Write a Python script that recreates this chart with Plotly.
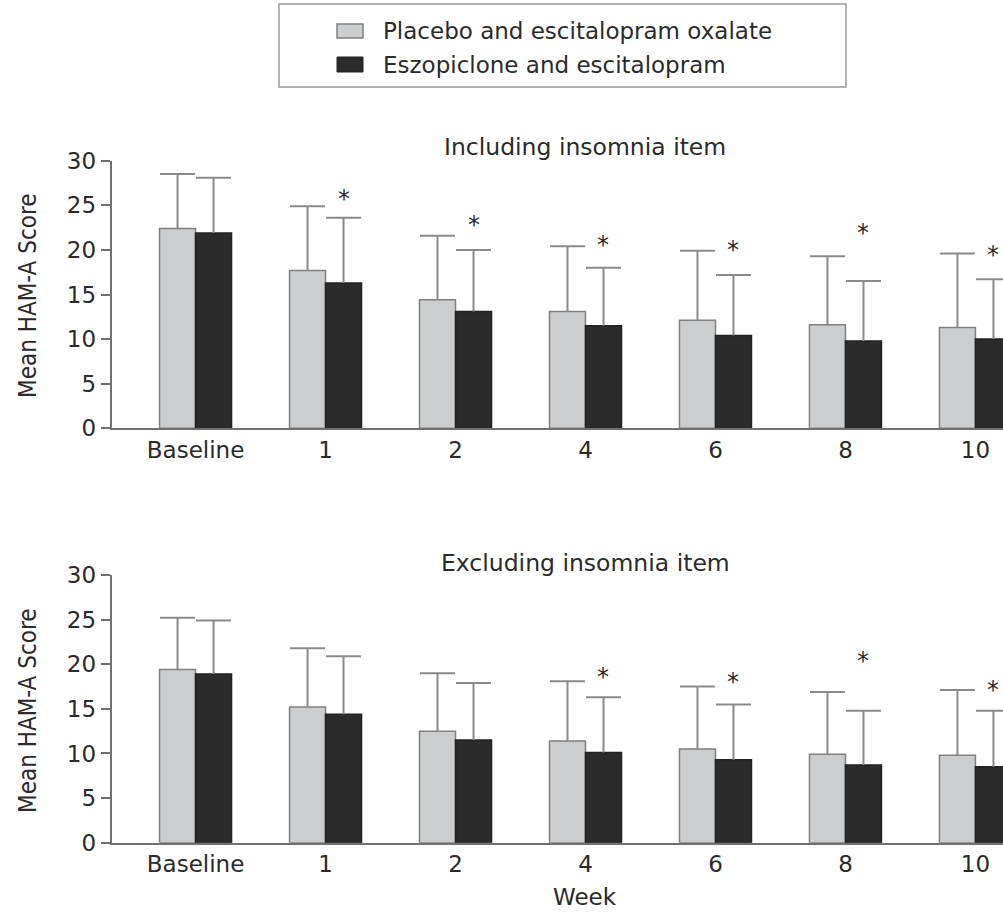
import plotly.graph_objects as go

# ---------------- data ----------------
weeks = ["Baseline", "1", "2", "4", "6", "8", "10"]

inc_placebo = [22.4, 17.7, 14.4, 13.1, 12.1, 11.6, 11.3]
inc_placebo_sd = [6.1, 7.2, 7.2, 7.3, 7.8, 7.7, 8.3]
inc_eszo = [21.9, 16.3, 13.1, 11.5, 10.4, 9.8, 10.0]
inc_eszo_sd = [6.2, 7.3, 6.9, 6.5, 6.8, 6.7, 6.7]
inc_star = [None, 26.3, 23.4, 21.1, 20.6, 22.5, 20.0]

exc_placebo = [19.4, 15.2, 12.5, 11.4, 10.5, 9.9, 9.8]
exc_placebo_sd = [5.8, 6.6, 6.5, 6.7, 7.0, 7.0, 7.3]
exc_eszo = [18.9, 14.4, 11.5, 10.1, 9.3, 8.7, 8.5]
exc_eszo_sd = [6.0, 6.5, 6.4, 6.2, 6.2, 6.1, 6.3]
exc_star = [None, None, None, 19.1, 18.6, 20.9, 17.7]

series_names = ["Placebo and escitalopram oxalate", "Eszopiclone and escitalopram"]
panel_titles = ["Including insomnia item", "Excluding insomnia item"]
y_title = "Mean HAM-A Score"
x_title = "Week"
y_ticks = [0, 5, 10, 15, 20, 25, 30]

# ---------------- style ----------------
W, H = 1003, 913
FONT = "DejaVu Sans"
TXT = "#2a2a2a"
LIGHT = "#cbcdcf"
LIGHT_EDGE = "#808080"
DARK = "#2b2b2b"
ERR = "#8a8a8a"
AX = "#707070"
BW = 0.277  # bar width in category units


def px(p):
    return p / W


def py(p):
    return 1 - p / H


idx = list(range(len(weeks)))

fig = go.Figure()

panels = [
    (inc_placebo, inc_placebo_sd, inc_eszo, inc_eszo_sd, inc_star, "x", "y"),
    (exc_placebo, exc_placebo_sd, exc_eszo, exc_eszo_sd, exc_star, "x2", "y2"),
]

annotations = []
for k, (pv, ps, ev, es, st, xr, yr) in enumerate(panels):
    for vals, sds, off, col, edge, name in [
        (pv, ps, -BW, LIGHT, LIGHT_EDGE, series_names[0]),
        (ev, es, 0.0, DARK, "#222222", series_names[1]),
    ]:
        fig.add_trace(go.Bar(
            x=idx, y=vals, width=BW, offset=off, name=name,
            marker=dict(color=col, line=dict(color=edge, width=1.5)),
            error_y=dict(type="data", array=sds, arrayminus=[0] * len(sds),
                         symmetric=False, width=0, thickness=2, color=ERR),
            xaxis=xr, yaxis=yr, showlegend=False,
        ))
        # error bar caps
        fig.add_trace(go.Scatter(
            x=[i + off + BW / 2 for i in idx],
            y=[v + s for v, s in zip(vals, sds)],
            mode="markers",
            marker=dict(symbol="line-ew", size=25,
                        line=dict(color=ERR, width=2), color=ERR),
            xaxis=xr, yaxis=yr, showlegend=False, hoverinfo="skip",
        ))
    # asterisks
    for i, s in zip(idx, st):
        if s is not None:
            annotations.append(dict(
                x=i + BW / 2, y=s, xref=xr, yref=yr, text="*",
                showarrow=False, yanchor="middle", xanchor="center",
                yshift=-5, font=dict(family=FONT, size=24, color=TXT)))

x_dom = [111.7 / W, 1.0]
x_rng = [-0.645, 6.212]
y_doms = [[py(428.3), py(160.7)], [py(842.7), py(575.0)]]

axis_common_x = dict(
    domain=x_dom, range=x_rng, tickmode="array", tickvals=idx, ticktext=weeks,
    showline=True, linecolor=AX, linewidth=2, ticks="", showgrid=False,
    zeroline=False, tickfont=dict(family=FONT, size=23, color=TXT),
    fixedrange=True, automargin=False,
)
axis_common_y = dict(
    range=[0, 30], tickmode="array", tickvals=y_ticks,
    showline=True, linecolor=AX, linewidth=2, ticks="outside", ticklen=9,
    tickwidth=2, tickcolor=AX, showgrid=False, zeroline=False,
    tickfont=dict(family=FONT, size=23, color=TXT), fixedrange=True,
    automargin=False,
)

fig.update_layout(
    template="none",
    xaxis=dict(axis_common_x, anchor="y"),
    yaxis=dict(axis_common_y, domain=y_doms[0], anchor="x"),
    xaxis2=dict(axis_common_x, anchor="y2"),
    yaxis2=dict(axis_common_y, domain=y_doms[1], anchor="x2"),
)

# panel titles
for t, yp, xr in [(panel_titles[0], 147, "x"), (panel_titles[1], 563, "x2")]:
    annotations.append(dict(x=3, xref=xr, y=py(yp), yref="paper", text=t,
                            showarrow=False, xanchor="center", yanchor="middle",
                            font=dict(family=FONT, size=23.5, color=TXT)))
# y titles
for yp in [296, 711]:
    annotations.append(dict(x=px(28), y=py(yp), xref="paper", yref="paper",
                            text=y_title, textangle=-90, showarrow=False,
                            xanchor="center", yanchor="middle",
                            font=dict(family="DejaVu Sans Condensed, DejaVu Sans",
                                      size=24, color=TXT)))
# x title
annotations.append(dict(x=3, xref="x2", y=py(912), yref="paper", text=x_title,
                        showarrow=False, xanchor="center", yanchor="bottom",
                        font=dict(family=FONT, size=23, color=TXT)))

# legend (drawn)
shapes = [
    dict(type="rect", xref="paper", yref="paper", x0=px(279), x1=px(846),
         y0=py(87), y1=py(4), line=dict(color="#9a9a9a", width=1.5),
         fillcolor="rgba(0,0,0,0)"),
    dict(type="rect", xref="paper", yref="paper", x0=px(337), x1=px(363),
         y0=py(38), y1=py(24), line=dict(color=LIGHT_EDGE, width=1.5),
         fillcolor=LIGHT),
    dict(type="rect", xref="paper", yref="paper", x0=px(337), x1=px(363),
         y0=py(72), y1=py(57), line=dict(color="#222222", width=1),
         fillcolor=DARK),
]
for name, yp in [(series_names[0], 31), (series_names[1], 65)]:
    annotations.append(dict(x=px(381), y=py(yp), xref="paper", yref="paper",
                            text=name, showarrow=False, xanchor="left",
                            yanchor="middle",
                            font=dict(family=FONT, size=23, color=TXT)))

fig.update_layout(
    width=W, height=H, margin=dict(l=0, r=0, t=0, b=0),
    paper_bgcolor="white", plot_bgcolor="white",
    annotations=annotations, shapes=shapes, showlegend=False,
    barmode="overlay",
)

fig.write_html("out.html")
